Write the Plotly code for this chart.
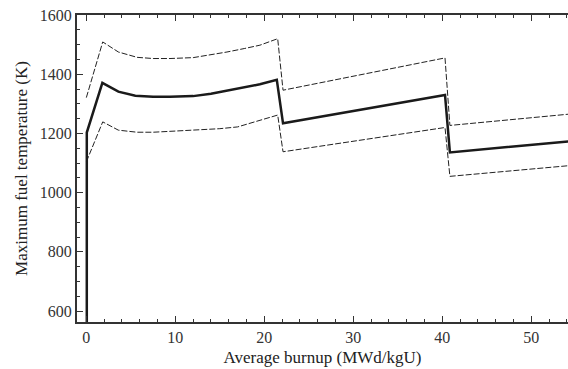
import plotly.graph_objects as go

# Mean maximum fuel temperature
mean_x = [0.05, 0.05, 1.8, 3.6, 5.5, 7.5, 9.4, 12.0, 14.0, 15.8, 17.8, 19.5, 21.4, 22.1, 40.3, 40.85, 54.2]
mean_y = [400, 1203, 1371, 1341, 1327, 1324, 1324, 1326, 1334, 1344, 1355, 1366, 1381, 1234, 1330, 1136, 1173]

# Upper bound
upper_x = [0.0, 1.84, 3.6, 5.7, 7.5, 9.4, 12.0, 14.0, 15.8, 17.8, 19.5, 21.5, 22.1, 40.3, 40.85, 54.2]
upper_y = [1321, 1509, 1475, 1457, 1453, 1453, 1456, 1465, 1475, 1487, 1498, 1520, 1346, 1455, 1227, 1265]

# Lower bound
lower_x = [0.0, 1.84, 3.6, 5.7, 7.5, 9.4, 12.6, 15.0, 17.0, 19.0, 21.5, 22.1, 40.3, 40.85, 54.2]
lower_y = [1104, 1239, 1211, 1204, 1204, 1207, 1211, 1216, 1222, 1240, 1262, 1138, 1220, 1055, 1091]

x_ticks = [0, 10, 20, 30, 40, 50]
y_ticks = [600, 800, 1000, 1200, 1400, 1600]

fig = go.Figure()
dash_style = dict(color="#222", width=1, dash="6px,2px")
fig.add_trace(go.Scatter(x=upper_x, y=upper_y, mode="lines", line=dash_style, showlegend=False))
fig.add_trace(go.Scatter(x=lower_x, y=lower_y, mode="lines", line=dash_style, showlegend=False))
fig.add_trace(go.Scatter(x=mean_x, y=mean_y, mode="lines",
                         line=dict(color="#1a1a1a", width=2.5), showlegend=False))

font = dict(family="Liberation Serif", size=16, color="#333")
fig.update_layout(
    width=568, height=369,
    margin=dict(l=77, r=0, t=15, b=47),
    plot_bgcolor="white", paper_bgcolor="white",
    font=font,
)
fig.update_xaxes(
    range=[-1.05, 54.12], tickvals=x_ticks, ticks="inside", ticklen=6, tickwidth=1,
    tickcolor="#333", showline=True, linecolor="#333", linewidth=2, mirror="ticks",
    showgrid=False, zeroline=False, ticklabelstandoff=0,
    minor=dict(dtick=2, tick0=0, ticks="inside", ticklen=3, tickcolor="#333", showgrid=False),
    title=dict(text="Average burnup (MWd/kgU)", font=dict(family="Liberation Serif", size=17, color="#222"), standoff=6),
)
fig.update_yaxes(
    range=[563, 1600], tickvals=y_ticks, ticks="inside", ticklen=6, tickwidth=1,
    tickcolor="#333", showline=True, linecolor="#333", linewidth=2, mirror=False,
    showgrid=False, zeroline=False,
    minor=dict(dtick=50, tick0=0, ticks="inside", ticklen=3, tickcolor="#333", showgrid=False),
    title=dict(text="Maximum fuel temperature (K)", font=dict(family="Liberation Serif", size=17, color="#222"), standoff=8),
)

fig.write_html("out.html", config={"displayModeBar": False},
               post_script="document.body.style.margin='0';")
